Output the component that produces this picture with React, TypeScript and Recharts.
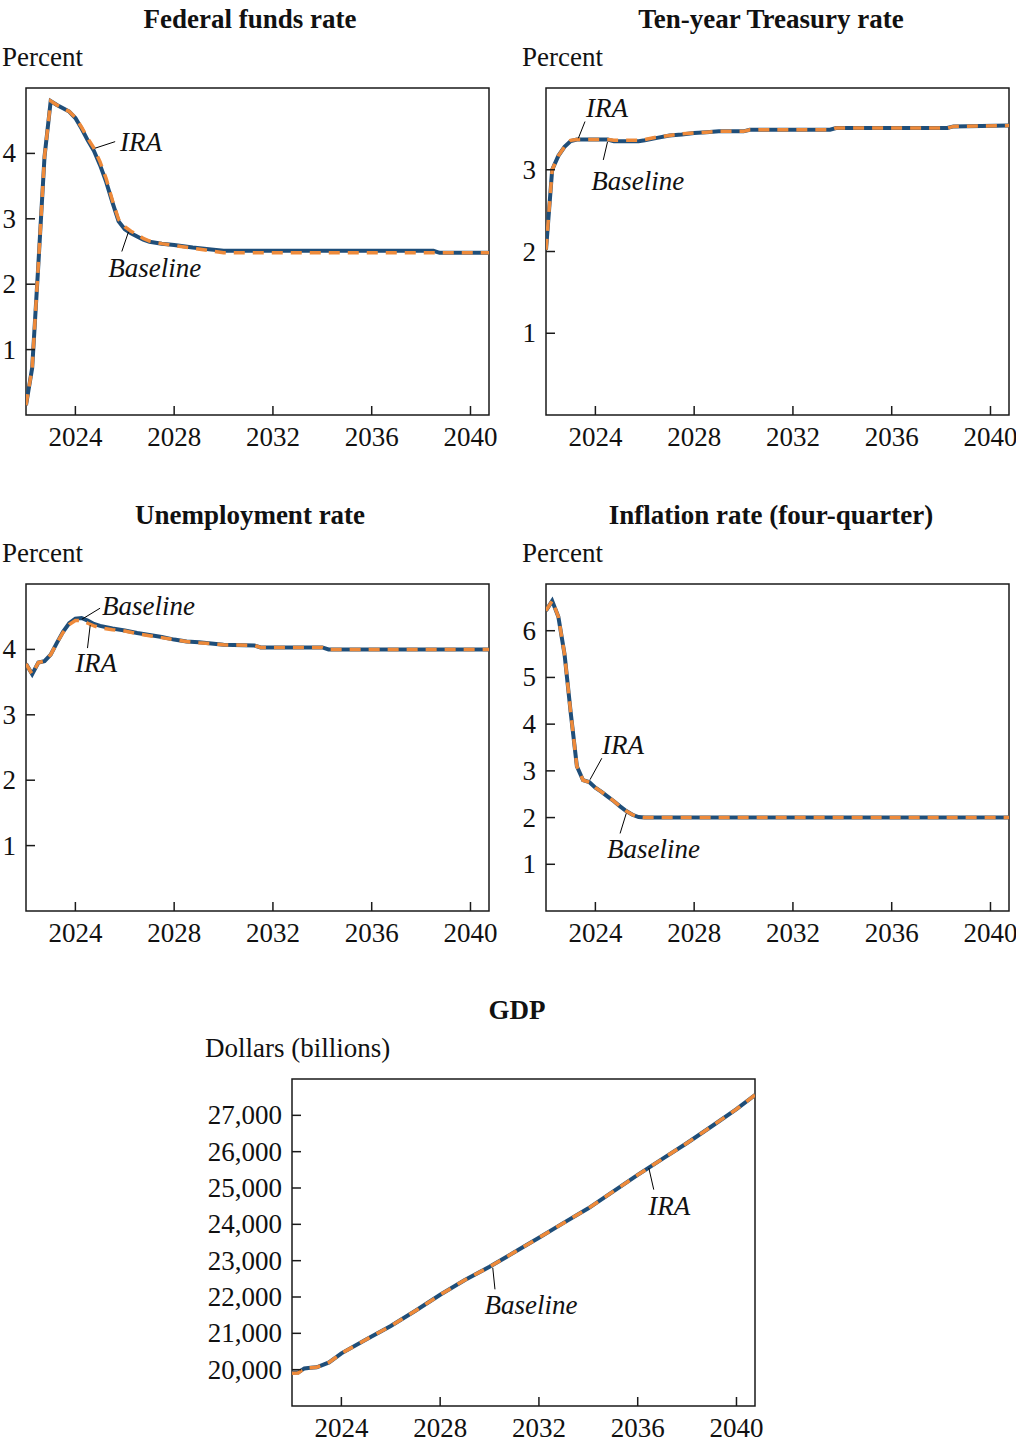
import React from "react";
import { LineChart, Line, XAxis, YAxis, ReferenceArea, ReferenceLine, ReferenceDot } from "recharts";

const FONT = '"Liberation Serif", "Times New Roman", serif';
const BLUE = "#1f4e79";
const ORANGE = "#ee8a3a";
const INK = "#1a1a1a";

const yearTicks = [2024, 2028, 2032, 2036, 2040];
const xDomain: [number, number] = [2022, 2040.75];

// Federal funds rate
const fedQuarters = [2022, 2022.25, 2022.5, 2022.75, 2023, 2023.25, 2023.5, 2023.75, 2024, 2024.25, 2024.5, 2024.75, 2025, 2025.25, 2025.5, 2025.75, 2026, 2026.25, 2026.5, 2026.75, 2027, 2027.5, 2028, 2028.75, 2029.5, 2030, 2038.5, 2038.75, 2040.75];
const fedBaseline = [0.15, 0.72, 2.3, 3.95, 4.8, 4.74, 4.69, 4.64, 4.54, 4.38, 4.2, 4.04, 3.82, 3.56, 3.25, 2.96, 2.84, 2.78, 2.73, 2.68, 2.65, 2.62, 2.6, 2.56, 2.53, 2.51, 2.51, 2.48, 2.48];
const fedIra = [0.15, 0.72, 2.3, 3.95, 4.8, 4.74, 4.69, 4.64, 4.55, 4.4, 4.23, 4.08, 3.87, 3.61, 3.28, 2.99, 2.88, 2.81, 2.76, 2.7, 2.66, 2.62, 2.59, 2.55, 2.51, 2.48, 2.48, 2.48, 2.48];
const fedTicks = [1, 2, 3, 4];

// Ten-year Treasury rate
const tenQuarters = [2022, 2022.25, 2022.5, 2022.75, 2023, 2023.25, 2024.5, 2024.75, 2025.75, 2026, 2026.5, 2027, 2027.5, 2028, 2028.5, 2029, 2030, 2030.25, 2033.5, 2033.75, 2038.25, 2038.5, 2040.75];
const tenBaseline = [2.02, 3.0, 3.17, 3.28, 3.35, 3.37, 3.37, 3.35, 3.35, 3.36, 3.39, 3.42, 3.43, 3.45, 3.46, 3.47, 3.47, 3.49, 3.49, 3.51, 3.51, 3.53, 3.54];
const tenIra = [2.02, 3.0, 3.17, 3.28, 3.36, 3.37, 3.37, 3.36, 3.36, 3.37, 3.4, 3.42, 3.44, 3.45, 3.46, 3.47, 3.47, 3.49, 3.49, 3.51, 3.51, 3.53, 3.54];
const tenTicks = [1, 2, 3];

// Unemployment rate
const unQuarters = [2022, 2022.25, 2022.5, 2022.75, 2023, 2023.25, 2023.5, 2023.75, 2024, 2024.25, 2024.5, 2024.75, 2025, 2025.5, 2026, 2026.5, 2027, 2027.5, 2028, 2028.5, 2029, 2029.5, 2030, 2031.25, 2031.5, 2034, 2034.25, 2040.75];
const unBaseline = [3.78, 3.62, 3.8, 3.82, 3.92, 4.1, 4.27, 4.4, 4.47, 4.48, 4.44, 4.39, 4.36, 4.32, 4.29, 4.25, 4.22, 4.19, 4.15, 4.12, 4.11, 4.09, 4.07, 4.06, 4.03, 4.03, 4.0, 4.0];
const unIra = [3.78, 3.62, 3.8, 3.82, 3.92, 4.1, 4.26, 4.38, 4.44, 4.44, 4.4, 4.36, 4.33, 4.3, 4.28, 4.24, 4.21, 4.18, 4.15, 4.12, 4.1, 4.09, 4.07, 4.06, 4.03, 4.03, 4.0, 4.0];
const unTicks = [1, 2, 3, 4];

// Inflation rate (four-quarter)
const infQuarters = [2022, 2022.25, 2022.5, 2022.75, 2023, 2023.25, 2023.5, 2023.75, 2024, 2024.25, 2024.5, 2024.75, 2025, 2025.25, 2025.5, 2025.75, 2026, 2040.75];
const infBaseline = [6.43, 6.64, 6.3, 5.5, 4.25, 3.1, 2.8, 2.76, 2.64, 2.55, 2.45, 2.35, 2.24, 2.14, 2.06, 2.01, 2.0, 2.0];
const infIra = [6.43, 6.64, 6.3, 5.5, 4.25, 3.1, 2.8, 2.76, 2.64, 2.55, 2.45, 2.35, 2.24, 2.14, 2.06, 2.01, 2.0, 2.0];
const infTicks = [1, 2, 3, 4, 5, 6];

// GDP, billions of dollars
const gdpQuarters = [2022, 2022.25, 2022.5, 2022.75, 2023, 2023.5, 2024, 2025, 2026, 2027, 2028, 2029, 2030, 2031, 2032, 2033, 2034, 2035, 2036, 2037, 2038, 2039, 2040, 2040.75];
const gdpBaseline = [19925, 19925, 20035, 20050, 20065, 20200, 20450, 20830, 21200, 21620, 22060, 22470, 22830, 23230, 23630, 24040, 24440, 24900, 25360, 25800, 26240, 26700, 27170, 27560];
const gdpIra = [19900, 19910, 20030, 20050, 20065, 20200, 20450, 20830, 21200, 21620, 22060, 22470, 22830, 23230, 23630, 24040, 24440, 24900, 25360, 25800, 26240, 26700, 27170, 27560];
const gdpTicks = [20000, 21000, 22000, 23000, 24000, 25000, 26000, 27000];

type Note = { text: string; from: [number, number]; to: [number, number]; at: [number, number] };

const fedNotes: Note[] = [
  { text: "IRA", from: [2024.8, 4.08], to: [2025.61, 4.18], at: [2025.81, 4.18] },
  { text: "Baseline", from: [2026.15, 2.8], to: [2025.88, 2.5], at: [2025.33, 2.25] },
];
const tenNotes: Note[] = [
  { text: "IRA", from: [2023.31, 3.385], to: [2023.58, 3.59], at: [2023.62, 3.755] },
  { text: "Baseline", from: [2024.49, 3.34], to: [2024.32, 3.12], at: [2023.83, 2.86] },
];
const unNotes: Note[] = [
  { text: "Baseline", from: [2024.26, 4.46], to: [2025.0, 4.63], at: [2025.08, 4.66] },
  { text: "IRA", from: [2024.6, 4.37], to: [2024.49, 4.02], at: [2023.99, 3.79] },
];
const infNotes: Note[] = [
  { text: "IRA", from: [2023.78, 2.81], to: [2024.26, 3.27], at: [2024.27, 3.55] },
  { text: "Baseline", from: [2025.25, 2.09], to: [2025.0, 1.66], at: [2024.47, 1.33] },
];
const gdpNotes: Note[] = [
  { text: "IRA", from: [2036.45, 25551], to: [2036.65, 24955], at: [2036.43, 24516] },
  { text: "Baseline", from: [2030.13, 22806], to: [2030.22, 22211], at: [2029.8, 21772] },
];

const rowsOf = (xs: number[], base: number[], ira: number[]) =>
  xs.map((x, i) => ({ x, baseline: base[i], ira: ira[i] }));

const XTick = (props: any) => {
  const { x, y, payload } = props;
  return (
    <g>
      <line x1={x} x2={x} y1={y} y2={y - 9} stroke={INK} strokeWidth={1.5} />
      <text x={x} y={y + 22} textAnchor="middle" dominantBaseline="central" fontFamily={FONT} fontSize={27} fill="#111">
        {payload.value}
      </text>
    </g>
  );
};

const YTick = (props: any) => {
  const { x, y, payload, fmt } = props;
  return (
    <g>
      <line x1={x} x2={x + 9} y1={y} y2={y} stroke={INK} strokeWidth={1.5} />
      <text x={x - 10} y={y} textAnchor="end" dominantBaseline="central" fontFamily={FONT} fontSize={27} fill="#111">
        {fmt(payload.value)}
      </text>
    </g>
  );
};

type PanelProps = {
  left: number;
  top: number;
  axisW: number;
  rows: { x: number; baseline: number; ira: number }[];
  yDomain: [number, number];
  yTicks: number[];
  fmt: (v: number) => string;
  notes: Note[];
};

const Panel = ({ left, top, axisW, rows, yDomain, yTicks, fmt, notes }: PanelProps) => {
  const W = 463;
  const H = 327;
  const padTop = 12;
  const padRight = 14;
  const bottom = 45;
  return (
    <div style={{ position: "absolute", left: left - axisW, top: top - padTop }}>
      <LineChart
        width={axisW + W + padRight}
        height={padTop + H + bottom}
        data={rows}
        margin={{ top: padTop, right: padRight, bottom: 0, left: 0 }}
      >
        <XAxis
          dataKey="x"
          type="number"
          domain={xDomain}
          ticks={yearTicks}
          interval={0}
          allowDataOverflow
          axisLine={false}
          tickLine={false}
          tickSize={0}
          tickMargin={0}
          height={bottom}
          tick={<XTick />}
        />
        <YAxis
          type="number"
          domain={yDomain}
          ticks={yTicks}
          interval={0}
          allowDataOverflow
          axisLine={false}
          tickLine={false}
          tickSize={0}
          tickMargin={0}
          width={axisW}
          tick={(p: any) => <YTick {...p} fmt={fmt} />}
        />
        <ReferenceArea
          x1={xDomain[0]}
          x2={xDomain[1]}
          y1={yDomain[0]}
          y2={yDomain[1]}
          fill="none"
          fillOpacity={0}
          stroke={INK}
          strokeWidth={1.5}
        />
        <Line type="linear" dataKey="baseline" stroke={BLUE} strokeWidth={4} dot={false} activeDot={false} isAnimationActive={false} />
        <Line type="linear" dataKey="ira" stroke={ORANGE} strokeWidth={3.5} strokeDasharray="11 8" dot={false} activeDot={false} isAnimationActive={false} />
        {notes.map((n) => (
          <ReferenceLine
            key={"l" + n.text}
            segment={[{ x: n.from[0], y: n.from[1] }, { x: n.to[0], y: n.to[1] }]}
            stroke="#000"
            strokeWidth={1}
          />
        ))}
        {notes.map((n) => (
          <ReferenceDot
            key={"t" + n.text}
            x={n.at[0]}
            y={n.at[1]}
            r={0}
            shape={(p: any) => (
              <text x={p.cx} y={p.cy} textAnchor="start" dominantBaseline="central" fontFamily={FONT} fontStyle="italic" fontSize={27} fill="#111">
                {n.text}
              </text>
            )}
          />
        ))}
      </LineChart>
    </div>
  );
};

const textStyle: React.CSSProperties = {
  position: "absolute",
  fontFamily: FONT,
  fontSize: 27,
  lineHeight: "27px",
  color: "#111",
  whiteSpace: "nowrap",
};

const Title = ({ cx, cy, children }: { cx: number; cy: number; children: React.ReactNode }) => (
  <div style={{ ...textStyle, left: cx - 250, width: 500, top: cy - 14, textAlign: "center", fontWeight: "bold" }}>{children}</div>
);

const Unit = ({ x, cy, children }: { x: number; cy: number; children: React.ReactNode }) => (
  <div style={{ ...textStyle, left: x, top: cy - 14 }}>{children}</div>
);

const plain = (v: number) => String(v);
const thousands = (v: number) => v.toLocaleString("en-US");

export default function App() {
  return (
    <div style={{ position: "absolute", left: 0, top: 0, width: 1016, height: 1444, background: "#fff", overflow: "hidden" }}>
      <Title cx={250} cy={20}>Federal funds rate</Title>
      <Unit x={2} cy={58}>Percent</Unit>
      <Panel left={26} top={88} axisW={26} rows={rowsOf(fedQuarters, fedBaseline, fedIra)} yDomain={[0, 5]} yTicks={fedTicks} fmt={plain} notes={fedNotes} />

      <Title cx={771} cy={20}>Ten-year Treasury rate</Title>
      <Unit x={522} cy={58}>Percent</Unit>
      <Panel left={546} top={88} axisW={30} rows={rowsOf(tenQuarters, tenBaseline, tenIra)} yDomain={[0, 4]} yTicks={tenTicks} fmt={plain} notes={tenNotes} />

      <Title cx={250} cy={516}>Unemployment rate</Title>
      <Unit x={2} cy={554}>Percent</Unit>
      <Panel left={26} top={584} axisW={26} rows={rowsOf(unQuarters, unBaseline, unIra)} yDomain={[0, 5]} yTicks={unTicks} fmt={plain} notes={unNotes} />

      <Title cx={771} cy={516}>Inflation rate (four-quarter)</Title>
      <Unit x={522} cy={554}>Percent</Unit>
      <Panel left={546} top={584} axisW={30} rows={rowsOf(infQuarters, infBaseline, infIra)} yDomain={[0, 7]} yTicks={infTicks} fmt={plain} notes={infNotes} />

      <Title cx={517} cy={1011}>GDP</Title>
      <Unit x={205} cy={1049}>Dollars (billions)</Unit>
      <Panel left={292} top={1079} axisW={92} rows={rowsOf(gdpQuarters, gdpBaseline, gdpIra)} yDomain={[19000, 28000]} yTicks={gdpTicks} fmt={thousands} notes={gdpNotes} />
    </div>
  );
}
